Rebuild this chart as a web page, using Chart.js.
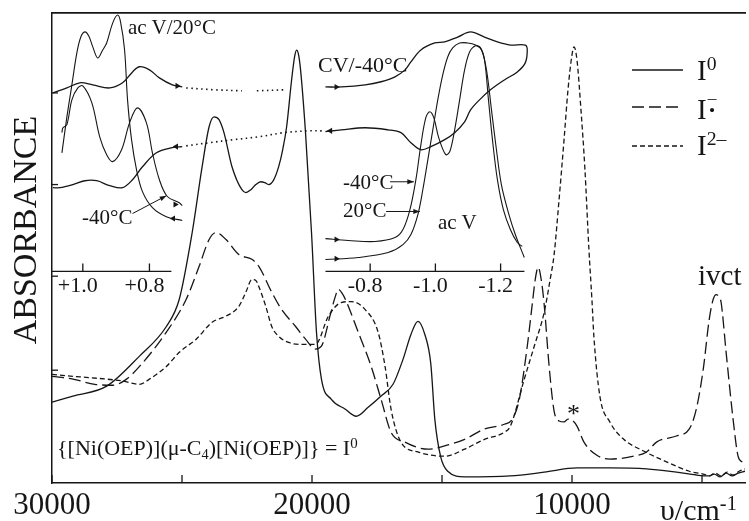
<!DOCTYPE html>
<html>
<head>
<meta charset="utf-8">
<script src="https://cdn.jsdelivr.net/npm/chart.js@4.4.1/dist/chart.umd.min.js"></script>
<style>
  body { margin: 0; background: #fff; }
  #wrap { position: relative; width: 749px; height: 521px; font-family: 'Liberation Serif', 'Times New Roman', serif; color: #161616; }
  #wrap canvas, #wrap svg { position: absolute; left: 0; top: 0; }
  .t { position: absolute; line-height: 1; white-space: nowrap; }
  .sup { font-size: 0.68em; position: relative; top: -0.5em; }
  .sub { font-size: 0.65em; position: relative; top: 0.25em; }
  .rad { display: inline-block; font-size: 0.6em; line-height: 0.75; text-align: center; vertical-align: 0.15em; margin-left: 1px; }
</style>
</head>
<body>
<div id="wrap">
  <canvas id="chart" width="749" height="521"></canvas>
  <svg width="749" height="521">
    <g stroke="#161616" stroke-width="1.4">
      <line x1="632" y1="70" x2="683" y2="70"/>
      <line x1="632" y1="107" x2="683" y2="107" stroke-dasharray="12 5"/>
      <line x1="632" y1="146" x2="683" y2="146" stroke-dasharray="5 3"/>
    </g>
  </svg>
  <div class="t" style="left:25px;top:230px;font-size:34px;transform:translate(-50%,-50%) rotate(-90deg);">ABSORBANCE</div>
  <div class="t" style="left:128px;top:17px;font-size:21px;">ac V/20°C</div>
  <div class="t" style="left:318px;top:54px;font-size:22px;">CV/-40°C</div>
  <div class="t" style="left:82px;top:207px;font-size:21px;">-40°C</div>
  <div class="t" style="left:343px;top:172px;font-size:21px;">-40°C</div>
  <div class="t" style="left:343px;top:200px;font-size:21px;">20°C</div>
  <div class="t" style="left:438px;top:212px;font-size:21px;">ac V</div>
  <div class="t" style="left:698px;top:261px;font-size:29px;">ivct</div>
  <div class="t" style="left:567px;top:401px;font-size:26px;">*</div>
  <div class="t" style="left:697px;top:56px;font-size:29px;">I<span class="sup">0</span></div>
  <div class="t" style="left:697px;top:91px;font-size:29px;">I<span class="rad">–<br>•</span></div>
  <div class="t" style="left:697px;top:131px;font-size:29px;">I<span class="sup">2–</span></div>
  <div class="t" style="left:57px;top:437px;font-size:22px;">{[Ni(OEP)](μ-C<span class="sub">4</span>)[Ni(OEP)]} = I<span class="sup">0</span></div>
  <div class="t" style="left:660px;top:495px;font-size:30px;">υ/cm<span class="sup">-1</span></div>
</div>

<script>
// --- Espectros principais: número de onda (cm-1) x absorbância (u.a., 0-100) ---
const nuI0 = [30000, 29197, 27897, 26635, 25602, 25105, 24608, 24226, 23958, 23767, 23576, 23384, 23078, 22696, 22543,
  22352, 22161, 21970, 21817, 21664, 21473, 21282, 21128, 20976, 20784, 20669, 20593, 20516, 20440, 20249, 20019,
  19828, 19637, 19255, 18719, 18299, 17840, 17343, 16884, 16501, 16195, 15928, 15660, 15430, 15277, 15048, 14780,
  14130, 12371, 11071, 9809, 8547, 7132, 5985, 5220, 4723, 4532, 4303, 4073, 3844, 3614, 3347];
const absI0 = [17.2, 18.5, 20.6, 27.0, 33.3, 39.1, 53.3, 67.3, 75.8, 77.9, 77.3, 74.5, 67.3, 62.4, 61.8,
  62.4, 63.5, 64.1, 63.9, 63.5, 64.5, 67.3, 70.9, 75.8, 85.8, 90.7, 92.1, 91.1, 87.9, 74.5, 53.3,
  32.1, 22.1, 17.8, 15.7, 14.2, 16.1, 18.5, 21.0, 26.3, 31.6, 34.4, 31.6, 25.3, 13.6, 5.5, 2.5,
  1.3, 1.5, 2.3, 3.2, 3.2, 3.0, 2.3, 1.7, 1.5, 1.9, 1.3, 2.1, 1.5, 2.1, 2.5];

const nuI1 = [30000, 29197, 28356, 27667, 27132, 26635, 25602, 24838, 24341, 23958, 23690, 23308, 22811, 22314, 22046,
  21549, 21167, 20631, 20249, 19866, 19637, 19293, 19102, 18987, 18834, 18719, 18222, 17725, 17343, 16960, 16425,
  15545, 14895, 14130, 13366, 12601, 12295, 12027, 11721, 11530, 11415, 11300, 11185, 11071, 10880, 10689, 10498,
  10307, 10154, 10001, 9809, 9541, 9044, 8547, 7629, 7132, 6750, 5985, 5488, 5220, 4953, 4723, 4570, 4456, 4341,
  4265, 4073, 3806, 3614, 3461, 3347];
const absI1 = [22.7, 22.1, 21.0, 20.8, 22.1, 24.8, 32.1, 39.1, 46.1, 51.8, 53.3, 51.8, 48.6, 47.6, 46.1,
  40.6, 36.9, 33.3, 30.6, 28.5, 29.1, 35.9, 39.7, 41.2, 40.3, 39.1, 32.1, 24.8, 17.8, 10.8, 8.7,
  7.2, 7.9, 9.3, 11.5, 12.5, 13.6, 17.8, 29.1, 38.0, 43.3, 45.9, 43.3, 38.0, 24.8, 15.3, 13.2,
  13.0, 13.6, 13.4, 12.1, 8.7, 5.9, 5.1, 5.7, 6.6, 8.7, 10.0, 11.5, 15.7, 24.2, 34.8, 39.1, 40.1, 39.5,
  38.4, 27.8, 13.6, 5.7, 4.5, 4.0];

const nuI2 = [30000, 29197, 27897, 27285, 26635, 26253, 25602, 25105, 24455, 23843, 23308, 22811, 22543, 22314, 22161,
  22046, 21779, 21549, 21282, 20899, 20402, 19866, 19369, 18872, 18490, 17955, 17458, 17190, 16960, 16578, 15928,
  14895, 14130, 13366, 12601, 12371, 11836, 11453, 11071, 10841, 10689, 10498, 10307, 10154, 10001, 9924, 9809,
  9656, 9503, 9350, 9235, 9159, 8929, 8547, 8012, 7247, 6367, 5488, 4953, 4723, 4494, 4265, 4035, 3806, 3576, 3347];
const absI2 = [23.1, 22.7, 22.1, 21.7, 21.0, 22.1, 24.8, 27.8, 30.6, 34.2, 35.5, 37.6, 40.6, 43.3, 43.1,
  41.8, 37.6, 33.3, 31.2, 29.9, 29.5, 29.5, 35.5, 38.4, 38.6, 36.9, 32.1, 24.8, 15.7, 8.7, 6.6,
  5.7, 7.2, 9.3, 10.8, 12.1, 22.1, 29.1, 36.3, 43.3, 48.6, 60.3, 73.0, 83.7, 91.1, 92.8, 90.0,
  79.4, 66.7, 49.7, 39.1, 31.2, 18.5, 13.0, 9.3, 6.8, 4.5, 2.5, 1.9, 1.5, 2.1, 1.5, 2.3, 1.7, 2.5, 3.0];

const xTicks = [30000, 25000, 20000, 15000, 10000, 5000];
const yTicks = [24, 44, 63.5, 83];

// --- Inset: potencial (V) x corrente (u.a.) ---
// lado anódico (+1.1 ... +0.7 V)
const leftCvFwdE = [1.0896, 1.0478, 1.0090, 0.9701, 0.9194, 0.8806, 0.8507, 0.8299, 0.8000, 0.7701, 0.7313, 0.7015];
const leftCvFwdI = [69.1, 71.0, 73.0, 72.2, 71.0, 73.0, 77.2, 79.2, 78.0, 74.9, 72.2, 71.4];
const leftCvBackE = [0.7015, 0.7313, 0.7791, 0.8209, 0.8507, 0.8806, 0.9194, 0.9582, 0.9940, 1.0299, 1.0687, 1.0896];
const leftCvBackI = [48.3, 47.9, 45.9, 40.5, 35.5, 32.4, 33.2, 35.1, 35.1, 33.6, 32.4, 32.4];
const leftAcv20E = [1.0627, 1.0478, 1.0328, 1.0179, 1.0060, 0.9940, 0.9821, 0.9701, 0.9552, 0.9403, 0.9284, 0.9104,
  0.8955, 0.8866, 0.8746, 0.8657, 0.8537, 0.8388, 0.8209, 0.7910, 0.7493, 0.7015];
const leftAcv20I = [45.9, 59.8, 72.2, 84.6, 90.7, 92.7, 91.1, 86.9, 82.6, 85.7, 88.4, 96.1,
  99.2, 96.5, 85.7, 66.4, 51.0, 39.4, 30.9, 24.7, 21.2, 19.7];
const leftAcv40E = [1.0627, 1.0597, 1.0478, 1.0328, 1.0149, 1.0000, 0.9731, 0.9493, 0.9284, 0.9104, 0.8836, 0.8597,
  0.8358, 0.8090, 0.7910, 0.7701, 0.7463, 0.7104, 0.7015];
const leftAcv40I = [53.7, 55.6, 56.8, 66.4, 71.0, 71.8, 65.3, 52.1, 45.2, 42.5, 47.1, 57.5,
  63.3, 57.5, 45.9, 35.5, 29.0, 26.6, 25.5];
// trechos pontilhados (quebra do eixo)
const dotTopE = [0.6896, 0.6060, 0.5224, 0.50, 0.4776, 0.3910];
const dotTopI = [71.0, 70.3, 69.9, null, 69.9, 70.3];
const dotLowE = [0.6896, 0.6209, 0.5463, 0.4716, 0.3970, 0.3224, 0.2806];
const dotLowI = [48.6, 49.8, 51.0, 52.1, 53.7, 54.4, 54.4];

// lado catódico (-0.66 ... -1.28 V)
const rightCvE = [-0.6628, -0.7116, -0.7848, -0.8335, -0.8762, -0.9067, -0.9250, -0.9555, -0.9982, -1.0287, -1.0683,
  -1.1079, -1.1506, -1.1902, -1.2299, -1.2756, -1.2817, -1.2756, -1.2512, -1.2116, -1.1689, -1.1354, -1.1079,
  -1.0896, -1.0591, -1.0287, -0.9860, -0.9555, -0.9250, -0.8945, -0.8549, -0.7848, -0.7116, -0.6628];
const rightCvI = [71.4, 71.4, 72.2, 73.4, 75.3, 78.0, 81.1, 85.7, 88.4, 88.8, 90.7,
  92.7, 90.7, 88.8, 87.6, 87.6, 85.7, 80.7, 77.2, 74.1, 70.3, 66.4, 62.5,
  57.9, 53.7, 51.0, 48.3, 47.1, 49.8, 53.7, 54.8, 55.6, 54.8, 54.1];
const rightAcv40E = [-0.6628, -0.7329, -0.8152, -0.8762, -0.9006, -0.9220, -0.9402, -0.9555, -0.9707, -0.9829,
  -0.9951, -1.0104, -1.0317, -1.0439, -1.0591, -1.0744, -1.0896, -1.1049, -1.1232, -1.1384, -1.1506, -1.1628,
  -1.1750, -1.1902, -1.2085, -1.2299, -1.2512, -1.2665];
const rightAcv40I = [12.7, 12.0, 11.6, 13.1, 16.2, 23.9, 35.5, 49.0, 59.5, 61.8,
  59.5, 51.7, 45.2, 46.3, 54.8, 66.4, 78.0, 84.9, 87.3, 86.5, 81.9, 66.4,
  51.0, 35.5, 23.9, 16.2, 11.2, 9.7];
const rightAcv20E = [-0.6628, -0.7634, -0.8549, -0.9006, -0.9250, -0.9463, -0.9616, -0.9768, -0.9921, -1.0073,
  -1.0226, -1.0378, -1.0530, -1.0744, -1.0988, -1.1232, -1.1415, -1.1567, -1.1720, -1.1872, -1.2024, -1.2238,
  -1.2451, -1.2726];
const rightAcv20I = [4.6, 5.4, 7.3, 10.4, 14.3, 22.0, 31.7, 43.2, 54.8, 66.4,
  76.1, 83.0, 86.5, 88.4, 88.4, 87.6, 85.7, 78.0, 62.5, 47.1, 33.6, 22.8,
  14.3, 5.4];

// setas de sentido de varredura
const leftArrowsFwd = [{ x: 0.7164, y: 71.8 }, { x: 0.7224, y: 25.9 }];
const leftArrowsBack = [{ x: 0.7194, y: 48.3 }, { x: 0.7284, y: 20.5 }];
const rightArrowsFwd = [{ x: -0.6963, y: 71.4 }, { x: -0.6963, y: 12.4 }, { x: -0.6963, y: 4.9 }];
const rightArrowsBack = [{ x: -0.678, y: 54.4 }];

// eixos do inset
const leftAxisRange = [1.0925, 0.734];
const rightAxisRange = [-0.663, -1.273];
const leftAxisTicks = [1.0, 0.8];
const rightAxisTicks = [-0.8, -1.0, -1.2];

// setas dos rótulos (-40°C, 20°C)
const pointers = [
  { axis: 'xl', from: [0.8507, 22.4], to: [0.7493, 29.3] },
  { axis: 'xr', from: [-0.861, 34.7], to: [-0.9341, 34.7] },
  { axis: 'xr', from: [-0.8488, 23.2], to: [-0.9524, 23.2] }
];

const ink = '#161616';
const serif = "'Liberation Serif', 'Times New Roman', serif";

function pts(xs, ys) {
  return xs.map((x, i) => ({ x: x, y: ys[i] }));
}

function spectrum(xs, ys, dash) {
  return {
    data: pts(xs, ys), xAxisID: 'x', yAxisID: 'y', showLine: true,
    borderColor: ink, borderWidth: 1.3, borderDash: dash, pointRadius: 0,
    cubicInterpolationMode: 'monotone'
  };
}

function insetLine(axis, xs, ys, dash, width) {
  return {
    data: pts(xs, ys), xAxisID: axis, yAxisID: 'yi', showLine: true,
    borderColor: ink, borderWidth: width || 1.3, borderDash: dash || [], pointRadius: 0,
    tension: 0.35, spanGaps: false
  };
}

function arrows(axis, list, rot) {
  return {
    data: list, xAxisID: axis, yAxisID: 'yi', showLine: false,
    pointStyle: 'triangle', pointRadius: 3.5, rotation: rot,
    backgroundColor: ink, borderColor: ink, borderWidth: 0
  };
}

// --- ticks internos, eixos do inset e setas dos rótulos ---
const decorations = {
  id: 'decorations',
  afterDraw(chart) {
    const { ctx, chartArea: a, scales } = chart;
    ctx.save();
    ctx.strokeStyle = ink;
    ctx.fillStyle = ink;
    ctx.lineWidth = 1.3;

    scales.x.ticks.forEach(t => {
      const px = scales.x.getPixelForValue(t.value);
      ctx.beginPath(); ctx.moveTo(px, a.bottom); ctx.lineTo(px, a.bottom - 8); ctx.stroke();
    });
    yTicks.forEach(v => {
      const py = scales.y.getPixelForValue(v);
      ctx.beginPath(); ctx.moveTo(a.left, py); ctx.lineTo(a.left + 6, py); ctx.stroke();
    });

    const y0 = scales.yi.getPixelForValue(0);
    ctx.font = '22px ' + serif;
    ctx.textAlign = 'center';
    ctx.textBaseline = 'alphabetic';
    [[scales.xl, leftAxisRange, leftAxisTicks], [scales.xr, rightAxisRange, rightAxisTicks]].forEach(([s, range, ticks]) => {
      ctx.beginPath();
      ctx.moveTo(s.getPixelForValue(range[0]), y0);
      ctx.lineTo(s.getPixelForValue(range[1]), y0);
      ctx.stroke();
      ticks.forEach(v => {
        const px = s.getPixelForValue(v);
        ctx.beginPath(); ctx.moveTo(px, y0); ctx.lineTo(px, y0 - 8); ctx.stroke();
        const label = (v > 0 ? '+' : '') + v.toFixed(1);
        ctx.fillText(label, px - 5, y0 + 21);
      });
    });

    ctx.lineWidth = 1;
    pointers.forEach(p => {
      const s = scales[p.axis];
      const x1 = s.getPixelForValue(p.from[0]), y1 = scales.yi.getPixelForValue(p.from[1]);
      const x2 = s.getPixelForValue(p.to[0]), y2 = scales.yi.getPixelForValue(p.to[1]);
      const ang = Math.atan2(y2 - y1, x2 - x1);
      ctx.beginPath(); ctx.moveTo(x1, y1); ctx.lineTo(x2, y2); ctx.stroke();
      ctx.beginPath();
      ctx.moveTo(x2, y2);
      ctx.lineTo(x2 - 7 * Math.cos(ang - 0.35), y2 - 7 * Math.sin(ang - 0.35));
      ctx.lineTo(x2 - 7 * Math.cos(ang + 0.35), y2 - 7 * Math.sin(ang + 0.35));
      ctx.closePath(); ctx.fill();
    });
    ctx.restore();
  }
};

const hidden = { type: 'linear', display: false };

new Chart(document.getElementById('chart'), {
  type: 'scatter',
  data: {
    datasets: [
      spectrum(nuI0, absI0, []),
      spectrum(nuI1, absI1, [12, 5]),
      spectrum(nuI2, absI2, [5, 3]),
      insetLine('xl', leftCvFwdE, leftCvFwdI),
      insetLine('xl', leftCvBackE, leftCvBackI),
      insetLine('xl', leftAcv20E, leftAcv20I, [], 1.1),
      insetLine('xl', leftAcv40E, leftAcv40I, [], 1.1),
      insetLine('xl', dotTopE, dotTopI, [1.5, 3.5], 1.6),
      insetLine('xl', dotLowE, dotLowI, [1.5, 3.5], 1.6),
      insetLine('xr', rightCvE, rightCvI),
      insetLine('xr', rightAcv40E, rightAcv40I, [], 1.1),
      insetLine('xr', rightAcv20E, rightAcv20I, [], 1.1),
      arrows('xl', leftArrowsFwd, 90),
      arrows('xl', leftArrowsBack, 270),
      arrows('xr', rightArrowsFwd, 90),
      arrows('xr', rightArrowsBack, 270)
    ]
  },
  options: {
    responsive: false,
    animation: false,
    layout: { padding: { left: 52, right: 0, top: 13, bottom: -7 } },
    plugins: { legend: { display: false }, tooltip: { enabled: false } },
    scales: {
      x: {
        type: 'linear', position: 'bottom', reverse: true, min: 3347, max: 30000,
        grid: { display: false, drawTicks: false },
        border: { display: true, color: ink, width: 1.5 },
        afterBuildTicks: s => { s.ticks = xTicks.map(v => ({ value: v })); },
        ticks: {
          autoSkip: false, maxRotation: 0, padding: 7, color: ink,
          font: { family: serif, size: 31, lineHeight: 1 },
          callback: v => (v % 10000 === 0 ? String(v) : '')
        }
      },
      xTop: {
        type: 'linear', axis: 'x', position: 'top', min: 3347, max: 30000,
        grid: { display: false, drawTicks: false },
        border: { display: true, color: ink, width: 1.8 },
        ticks: { display: false }
      },
      y: {
        type: 'linear', position: 'left', min: 0, max: 100,
        grid: { display: false, drawTicks: false },
        border: { display: true, color: ink, width: 1.5 },
        ticks: { display: false }
      },
      xl: Object.assign({ reverse: true, min: -0.988, max: 1.0925, axis: 'x' }, hidden),
      xr: Object.assign({ reverse: true, min: -1.9494, max: 0.1756, axis: 'x' }, hidden),
      yi: Object.assign({ min: -81.85, max: 100, axis: 'y' }, hidden)
    }
  },
  plugins: [decorations]
});
</script>
</body>
</html>
